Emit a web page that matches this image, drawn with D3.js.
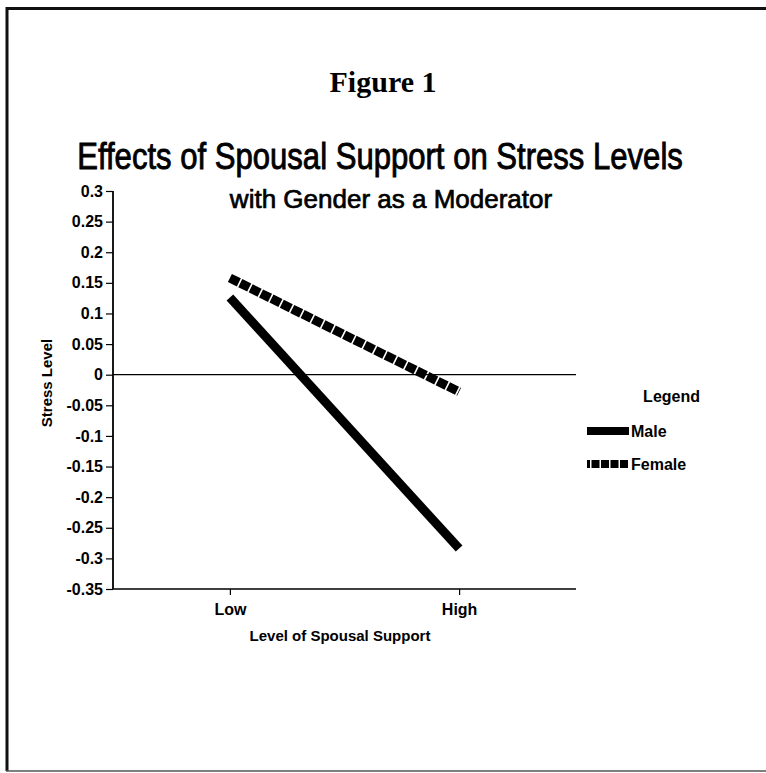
<!DOCTYPE html>
<html>
<head>
<meta charset="utf-8">
<script src="https://cdn.jsdelivr.net/npm/d3@7"></script>
<style>
  html, body { margin: 0; padding: 0; background: #fff; }
  svg { display: block; }
  .tick text { font-family: "Liberation Sans", Arial, sans-serif; font-weight: bold; fill: #000; }
</style>
</head>
<body>
<svg id="chart" width="766" height="773"></svg>
<script>
/*
  Figure 1: spousal support x gender interaction on stress
*/
const categories = ['Low', 'High'];
const yTicks = [0.3, 0.25, 0.2, 0.15, 0.1, 0.05, 0, -0.05, -0.1, -0.15, -0.2, -0.25, -0.3, -0.35];
const maleValues = [0.126, -0.284];
const femaleValues = [0.158, -0.028];
const legendItems = ['Male', 'Female'];

const WIDTH = 766;
const plot = { left: 113, right: 576, top: 191, bottom: 589 };
const SANS = '"Liberation Sans", Arial, sans-serif';

const svg = d3.select('#chart');

// frame of the scanned page
svg.append('line')
  .attr('x1', 6).attr('x2', WIDTH).attr('y1', 8.5).attr('y2', 8.5)
  .attr('stroke', '#111').attr('stroke-width', 3);
svg.append('line')
  .attr('x1', 7).attr('x2', 7).attr('y1', 7).attr('y2', 771)
  .attr('stroke', '#111').attr('stroke-width', 3);
svg.append('line')
  .attr('x1', 6).attr('x2', WIDTH).attr('y1', 771).attr('y2', 771)
  .attr('stroke', '#555').attr('stroke-width', 1.5);

/**
 * Scales
 */
const scale = {};
scale.x = d3.scalePoint()
  .domain(categories)
  .range([plot.left, plot.right])
  .padding(0.51);

scale.y = d3.scaleLinear()
  .domain([-0.35, 0.3])
  .range([plot.bottom, plot.top]);

/**
 * Titles
 */
svg.append('text')
  .attr('x', 383).attr('y', 92)
  .attr('text-anchor', 'middle')
  .style('font-family', '"Liberation Serif", "Times New Roman", serif')
  .style('font-weight', 'bold')
  .style('font-size', '30px')
  .text('Figure 1');

// scanned helvetica is heavy and narrow: regular face, thin outline, squeezed
svg.append('text')
  .attr('transform', 'translate(380,169) scale(0.84,1)')
  .attr('text-anchor', 'middle')
  .style('font-family', SANS)
  .style('font-size', '37px')
  .style('stroke', '#000')
  .style('stroke-width', 0.9)
  .text('Effects of Spousal Support on Stress Levels');

svg.append('text')
  .attr('x', 391).attr('y', 208)
  .attr('text-anchor', 'middle')
  .style('font-family', SANS)
  .style('font-size', '26px')
  .style('stroke', '#000')
  .style('stroke-width', 0.7)
  .text('with Gender as a Moderator');

/**
 * Axes
 */
const axis = {};
axis.y = d3.axisLeft(scale.y)
  .tickValues(yTicks)
  .tickSize(7)
  .tickPadding(3)
  .tickFormat(d => String(d));

axis.x = d3.axisBottom(scale.x)
  .tickSize(6)
  .tickPadding(9);

const gy = svg.append('g')
  .attr('transform', `translate(${plot.left},0)`)
  .call(axis.y);
gy.select('.domain').remove();
gy.selectAll('.tick line').attr('stroke', '#000').attr('stroke-width', 1.2);
gy.selectAll('.tick text').style('font-size', '16px');

const gx = svg.append('g')
  .attr('transform', `translate(0,${plot.bottom})`)
  .call(axis.x);
gx.select('.domain').remove();
gx.selectAll('.tick line').attr('stroke', '#000').attr('stroke-width', 1.2);
gx.selectAll('.tick text').style('font-size', '16px');

// axis lines
svg.append('line')
  .attr('x1', plot.left).attr('x2', plot.left)
  .attr('y1', plot.top).attr('y2', plot.bottom)
  .attr('stroke', '#000').attr('stroke-width', 1.8);
svg.append('line')
  .attr('x1', plot.left).attr('x2', plot.right)
  .attr('y1', plot.bottom).attr('y2', plot.bottom)
  .attr('stroke', '#000').attr('stroke-width', 1.6);

// zero line
svg.append('line')
  .attr('x1', plot.left).attr('x2', plot.right)
  .attr('y1', scale.y(0)).attr('y2', scale.y(0))
  .attr('stroke', '#000').attr('stroke-width', 1.3);

// axis titles
svg.append('text')
  .attr('transform', `translate(52,383) rotate(-90)`)
  .attr('text-anchor', 'middle')
  .style('font-family', SANS)
  .style('font-weight', 'bold')
  .style('font-size', '15px')
  .text('Stress Level');

svg.append('text')
  .attr('x', 340).attr('y', 641)
  .attr('text-anchor', 'middle')
  .style('font-family', SANS)
  .style('font-weight', 'bold')
  .style('font-size', '15px')
  .text('Level of Spousal Support');

/**
 * Lines
 */
const line = d3.line()
  .x(d => scale.x(d.category))
  .y(d => scale.y(d.value));

const toPoints = values => categories.map((c, i) => ({ category: c, value: values[i] }));

svg.append('path')
  .datum(toPoints(maleValues))
  .attr('d', line)
  .attr('fill', 'none')
  .attr('stroke', '#000')
  .attr('stroke-width', 9);

svg.append('path')
  .datum(toPoints(femaleValues))
  .attr('d', line)
  .attr('fill', 'none')
  .attr('stroke', '#000')
  .attr('stroke-width', 9)
  .attr('stroke-dasharray', '10,1.6');

/**
 * Legend
 */
const legend = svg.append('g').attr('transform', 'translate(587,0)');

legend.append('text')
  .attr('x', 113).attr('y', 402)
  .attr('text-anchor', 'end')
  .style('font-family', SANS)
  .style('font-weight', 'bold')
  .style('font-size', '16px')
  .text('Legend');

const legendY = d3.scalePoint()
  .domain(legendItems)
  .range([431, 464]);

legendItems.forEach(name => {
  const y = legendY(name);
  legend.append('line')
    .attr('x1', 0).attr('x2', 42)
    .attr('y1', y).attr('y2', y)
    .attr('stroke', '#000')
    .attr('stroke-width', 8)
    .attr('stroke-dasharray', name === 'Female' ? '3,1.5,8,1.5,8,1.5,8,1.5,8' : null);
  legend.append('text')
    .attr('x', 44).attr('y', y + 6)
    .style('font-family', SANS)
    .style('font-weight', 'bold')
    .style('font-size', '16px')
    .text(name);
});
</script>
</body>
</html>
